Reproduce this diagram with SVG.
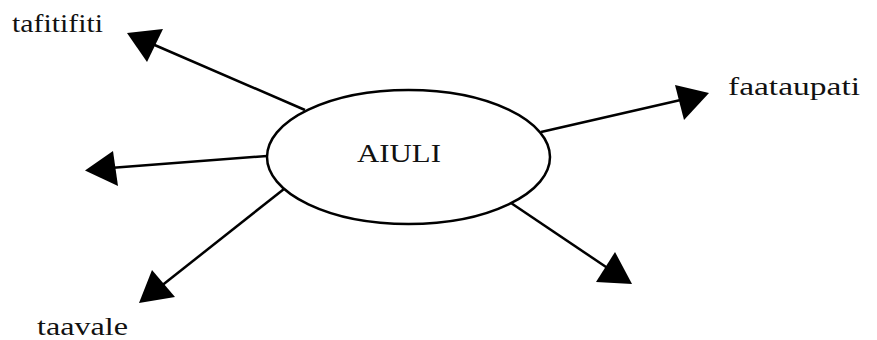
<svg xmlns="http://www.w3.org/2000/svg" width="877" height="340" viewBox="0 0 877 340">
<style>
.lbl{font-family:"Liberation Serif","Times New Roman",serif;font-size:25px;fill:#111}
.edge{stroke:#000;stroke-width:2.5;fill:none}
.head{fill:#000}
</style>
<rect width="877" height="340" fill="#fff"/>
<g id="node-aiuli">
<ellipse cx="408.5" cy="157" rx="141.5" ry="67" fill="#fff" stroke="#000" stroke-width="2.5"/>
<text class="lbl" x="399" y="162" text-anchor="middle" font-size="28" textLength="84" lengthAdjust="spacingAndGlyphs">AIULI</text>
</g>
<g id="connectors">
<line class="edge" x1="305" y1="110" x2="150" y2="43"/>
<polygon class="head" points="127,33 163,29 147,62"/>
<line class="edge" x1="541" y1="132" x2="685" y2="99"/>
<polygon class="head" points="709,93 675,85 684,120"/>
<line class="edge" x1="267" y1="156" x2="110" y2="168"/>
<polygon class="head" points="85,170.5 113,151 118,186"/>
<line class="edge" x1="284" y1="189" x2="160" y2="287"/>
<polygon class="head" points="139,303 152,270 175,297"/>
<line class="edge" x1="511" y1="203" x2="612" y2="271"/>
<polygon class="head" points="632,284 615,252 596,282"/>
</g>
<g id="node-tafitifiti">
<text class="lbl" x="12" y="32" textLength="91" lengthAdjust="spacingAndGlyphs">tafitifiti</text>
</g>
<g id="node-faataupati">
<text class="lbl" x="728" y="95" textLength="132" lengthAdjust="spacingAndGlyphs">faataupati</text>
</g>
<g id="node-taavale">
<text class="lbl" x="37" y="335" textLength="91" lengthAdjust="spacingAndGlyphs">taavale</text>
</g>
</svg>
